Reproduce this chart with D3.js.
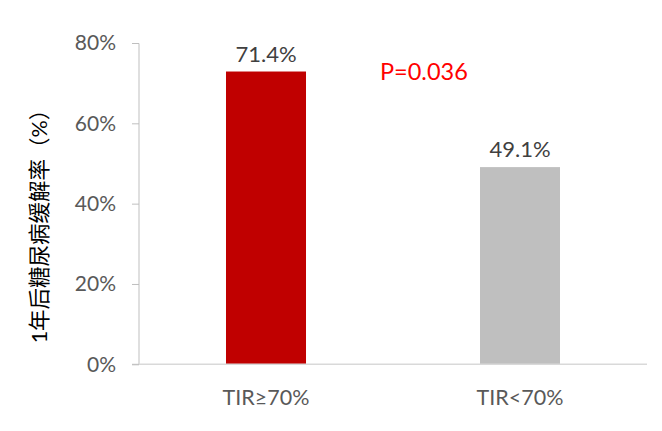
<!DOCTYPE html>
<html lang="zh">
  <head>
    <meta charset="UTF-8" />
    <title>1年后糖尿病缓解率</title>
    <script src="https://d3js.org/d3.v7.min.js"></script>
    <style>
      body { margin: 0; background: #fff; }
      svg text { font-family: Lato, "Noto Sans CJK SC", sans-serif; }
    </style>
  </head>
  <body>
    <svg id="chart" width="662" height="431"></svg>

    <script>
      // data
      const categories = ["TIR≥70%", "TIR<70%"];
      const barValues = [72.9, 49.1];
      const barLabels = ["71.4%", "49.1%"];
      const barColors = ["#C00000", "#BFBFBF"];
      const yTicks = [0, 20, 40, 60, 80];
      const pText = "P=0.036";
      const yTitle = "1年后糖尿病缓解率（%）";

      const svg = d3.select("#chart");

      const x = d3
        .scaleBand()
        .domain(categories)
        .range([139, 647])
        .paddingInner(0.685)
        .paddingOuter(0.3425);

      const y = d3.scaleLinear().domain([0, 80]).range([364.3, 43]);

      // y axis
      const yAxis = svg
        .append("g")
        .attr("transform", "translate(139,0)")
        .call(d3.axisLeft(y).tickValues(yTicks).tickFormat((d) => d + "%").tickSize(7).tickPadding(16));
      yAxis.select(".domain").attr("stroke", "#BFBFBF").attr("d", "M-7,43.5H0V364.3H-7");
      yAxis.selectAll(".tick line").attr("stroke", "#BFBFBF");
      yAxis.selectAll(".tick text").attr("fill", "#595959").style("font-size", "21px");

      // bars
      svg
        .selectAll("rect.bar")
        .data(categories)
        .enter()
        .append("rect")
        .attr("class", "bar")
        .attr("x", (d) => x(d))
        .attr("width", x.bandwidth())
        .attr("y", (d, i) => y(barValues[i]))
        .attr("height", (d, i) => y(0) - y(barValues[i]))
        .attr("fill", (d, i) => barColors[i]);

      // x axis line
      svg
        .append("line")
        .attr("x1", 139)
        .attr("x2", 647)
        .attr("y1", y(0))
        .attr("y2", y(0))
        .attr("stroke", "#D9D9D9")
        .attr("stroke-width", 1.5);

      // category labels
      svg
        .selectAll("text.cat")
        .data(categories)
        .enter()
        .append("text")
        .attr("class", "cat")
        .attr("x", (d) => x(d) + x.bandwidth() / 2)
        .attr("y", 405)
        .attr("text-anchor", "middle")
        .attr("fill", "#595959")
        .style("font-size", "21.5px")
        .text((d) => d);

      // value labels
      svg
        .selectAll("text.val")
        .data(categories)
        .enter()
        .append("text")
        .attr("class", "val")
        .attr("x", (d) => x(d) + x.bandwidth() / 2)
        .attr("y", (d, i) => y(barValues[i]) - 10)
        .attr("text-anchor", "middle")
        .attr("fill", "#404040")
        .style("font-size", "22px")
        .text((d, i) => barLabels[i]);

      // p value
      svg
        .append("text")
        .attr("x", 380)
        .attr("y", 80)
        .attr("fill", "#FF0000")
        .style("font-size", "23.5px")
        .text(pText);

      // y title
      svg
        .append("text")
        .attr("transform", "translate(39,221) rotate(-90)")
        .attr("text-anchor", "middle")
        .attr("dominant-baseline", "central")
        .attr("fill", "#000")
        .style("font-size", "21.5px")
        .text(yTitle);
    </script>
  </body>
</html>
